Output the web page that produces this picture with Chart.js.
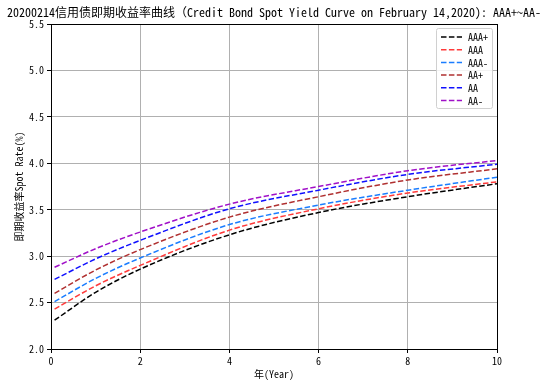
<!DOCTYPE html>
<html>
<head>
<meta charset="utf-8">
<script src="https://cdn.jsdelivr.net/npm/chart.js@4"></script>
<style>
  html, body { margin: 0; padding: 0; background: #fff; }
  #wrap { width: 548px; height: 385px; }
</style>
</head>
<body>
<div id="wrap"><canvas id="curve"></canvas></div>
<script>
// DATA
const years = [0.08, 1, 2, 4, 6, 8, 10];
const seriesNames = ["AAA+", "AAA", "AAA-", "AA+", "AA", "AA-"];
const aaaPlus  = [2.31, 2.61, 2.86, 3.23, 3.47, 3.64, 3.78];
const aaa      = [2.43, 2.68, 2.90, 3.28, 3.51, 3.68, 3.80];
const aaaMinus = [2.51, 2.76, 2.98, 3.34, 3.55, 3.71, 3.85];
const aaPlus   = [2.60, 2.85, 3.07, 3.42, 3.64, 3.82, 3.94];
const aa       = [2.75, 2.97, 3.17, 3.51, 3.71, 3.88, 3.99];
const aaMinus  = [2.88, 3.08, 3.26, 3.56, 3.75, 3.92, 4.03];
const yTicks = [2.0, 2.5, 3.0, 3.5, 4.0, 4.5, 5.0, 5.5];
const xTicks = [0, 2, 4, 6, 8, 10];

const colors = ["#000000", "#ff3a3a", "#1a7dff", "#b03030", "#1010ff", "#a010c8"];
const allSeries = [aaaPlus, aaa, aaaMinus, aaPlus, aa, aaMinus];

const FONT = "'Noto Sans Mono CJK SC', 'Noto Sans CJK SC', sans-serif";

// frame, titles and in-plot legend
const extras = {
  id: "extras",
  afterDraw(chart) {
    const c = chart.ctx;
    const a = chart.chartArea;
    c.save();
    c.strokeStyle = "#000";
    c.lineWidth = 1;
    c.strokeRect(Math.round(a.left) + 0.5, Math.round(a.top) + 0.5,
      Math.round(a.right - a.left), Math.round(a.bottom - a.top));

    c.fillStyle = "#000";
    c.font = "12px " + FONT;
    c.textAlign = "center";
    c.textBaseline = "middle";
    c.fillText("20200214信用债即期收益率曲线（Credit Bond Spot Yield Curve on February 14,2020): AAA+~AA-", 274, 12);

    // axis titles
    c.font = "10px " + FONT;
    c.fillText("年(Year)", (a.left + a.right) / 2, 374);
    c.save();
    c.translate(19, (a.top + a.bottom) / 2);
    c.rotate(-Math.PI / 2);
    c.fillText("即期收益率Spot Rate(%)", 0, 0);
    c.restore();

    // legend box
    const lx = 436, ly = 28, lw = 56, lh = 80;
    c.fillStyle = "rgba(255,255,255,0.85)";
    c.strokeStyle = "#d0d0d0";
    c.beginPath();
    c.roundRect(lx + 0.5, ly + 0.5, lw, lh, 2);
    c.fill();
    c.stroke();
    c.textAlign = "left";
    chart.data.datasets.forEach((ds, i) => {
      const y = ly + 9 + i * 12.7;
      c.strokeStyle = ds.borderColor;
      c.lineWidth = 1.5;
      c.setLineDash([5.5, 2.4]);
      c.beginPath();
      c.moveTo(lx + 5, y);
      c.lineTo(lx + 26, y);
      c.stroke();
      c.setLineDash([]);
      c.fillStyle = "#000";
      c.fillText(ds.label, lx + 32, y + 0.5);
    });
    c.restore();
  }
};

new Chart(document.getElementById("curve"), {
  type: "line",
  data: {
    datasets: seriesNames.map((name, i) => ({
      label: name,
      data: years.map((x, j) => ({ x: x, y: allSeries[i][j] })),
      borderColor: colors[i],
      borderWidth: 1.5,
      borderDash: [5.5, 2.4],
      pointRadius: 0,
      fill: false,
      cubicInterpolationMode: "monotone"
    }))
  },
  options: {
    responsive: true,
    maintainAspectRatio: false,
    animation: false,
    layout: { padding: { top: 24, right: 51, left: 0, bottom: 0 } },
    plugins: {
      legend: { display: false },
      tooltip: { enabled: false }
    },
    scales: {
      x: {
        type: "linear",
        min: 0,
        max: 10,
        afterBuildTicks: (s) => { s.ticks = xTicks.map(v => ({ value: v })); },
        afterFit: (s) => { s.height = 36; },
        grid: { color: "#b0b0b0", tickColor: "#000", tickLength: 4 },
        border: { color: "#000" },
        ticks: { color: "#000", padding: 2, font: { family: FONT, size: 10 }, maxRotation: 0 }
      },
      y: {
        min: 2,
        max: 5.5,
        afterBuildTicks: (s) => { s.ticks = yTicks.map(v => ({ value: v })); },
        afterFit: (s) => { s.width = 51; },
        grid: { color: "#b0b0b0", tickColor: "#000", tickLength: 4 },
        border: { color: "#000" },
        ticks: {
          color: "#000", padding: 3, font: { family: FONT, size: 10 },
          callback: (v) => Number(v).toFixed(1)
        }
      }
    }
  },
  plugins: [extras]
});
</script>
</body>
</html>
